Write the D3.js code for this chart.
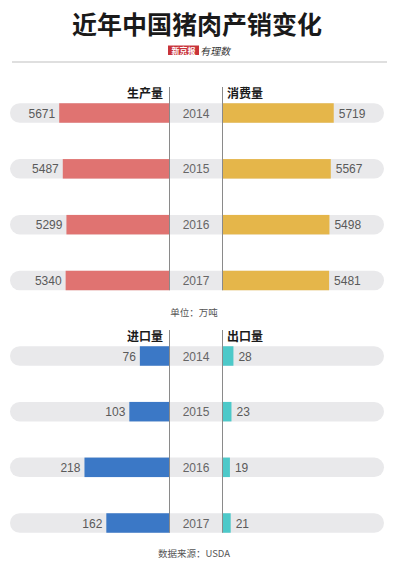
<!DOCTYPE html>
<html>
<head>
<meta charset="utf-8">
<script src="https://cdn.jsdelivr.net/npm/d3@7"></script>
<style>
  body { margin: 0; background: #fff; }
  svg { display: block; font-family: "Liberation Sans", "Noto Sans CJK SC", sans-serif; }
  .cjk { font-family: "Noto Sans CJK SC", sans-serif; }
</style>
</head>
<body>
<div id="chart"></div>
<script>
const years = ["2014", "2015", "2016", "2017"]
const production = [5671, 5487, 5299, 5340]
const consumption = [5719, 5567, 5498, 5481]
const imports = [76, 103, 218, 162]
const exports = [28, 23, 19, 21]

const width = 394, height = 571
const leftAxis = 169.5, rightAxis = 222.5, mid = 196
const pillLeft = 10, pillRight = 384, rowH = 19.5

const svg = d3.select("#chart").append("svg")
  .attr("width", width)
  .attr("height", height)

// header
svg.append("text")
  .attr("class", "cjk")
  .attr("x", width / 2)
  .attr("y", 34)
  .attr("text-anchor", "middle")
  .style("font-size", "25px")
  .style("font-weight", 700)
  .style("fill", "#1a1a1a")
  .text("近年中国猪肉产销变化")

svg.append("rect")
  .attr("x", 168).attr("y", 45.5)
  .attr("width", 31).attr("height", 9.5)
  .style("fill", "#c8343a")
svg.append("text")
  .attr("class", "cjk")
  .attr("x", 183.5).attr("y", 53.5)
  .attr("text-anchor", "middle")
  .style("font-size", "8px")
  .style("font-weight", 700)
  .style("fill", "#fff")
  .text("新京报")
svg.append("text")
  .attr("class", "cjk")
  .attr("x", 201).attr("y", 55)
  .attr("transform", "skewX(-12)")
  .attr("dx", 11)
  .style("font-size", "10px")
  .style("fill", "#333")
  .text("有理数")

svg.append("line")
  .attr("x1", 12).attr("x2", 387)
  .attr("y1", 62).attr("y2", 62)
  .style("stroke", "#d4d4d4")
  .style("stroke-width", 1.5)

function drawPanel(cfg) {
  const y = d3.scalePoint().domain(years).range(cfg.rows)
  const x = d3.scaleLinear().domain([0, cfg.max]).range([0, cfg.span])
  const g = svg.append("g")

  g.selectAll(".pill")
    .data(years)
    .join("rect")
    .attr("x", pillLeft)
    .attr("y", d => y(d) - rowH / 2)
    .attr("width", pillRight - pillLeft)
    .attr("height", rowH)
    .attr("rx", rowH / 2)
    .style("fill", "#e9e9eb")

  g.selectAll(".lbar")
    .data(cfg.left)
    .join("rect")
    .attr("x", d => leftAxis - x(d))
    .attr("y", (d, i) => y(years[i]) - rowH / 2)
    .attr("width", d => x(d))
    .attr("height", rowH)
    .style("fill", cfg.leftColor)

  g.selectAll(".rbar")
    .data(cfg.right)
    .join("rect")
    .attr("x", rightAxis)
    .attr("y", (d, i) => y(years[i]) - rowH / 2)
    .attr("width", d => x(d))
    .attr("height", rowH)
    .style("fill", cfg.rightColor)

  g.selectAll(".lval")
    .data(cfg.left)
    .join("text")
    .attr("x", d => leftAxis - x(d) - 4)
    .attr("y", (d, i) => y(years[i]) + 4.5)
    .attr("text-anchor", "end")
    .style("font-size", "12px")
    .style("fill", "#5a5a5a")
    .text(d => d)

  g.selectAll(".rval")
    .data(cfg.right)
    .join("text")
    .attr("x", d => rightAxis + x(d) + 5)
    .attr("y", (d, i) => y(years[i]) + 4.5)
    .style("font-size", "12px")
    .style("fill", "#5a5a5a")
    .text(d => d)

  g.selectAll(".year")
    .data(years)
    .join("text")
    .attr("x", mid)
    .attr("y", d => y(d) + 4.5)
    .attr("text-anchor", "middle")
    .style("font-size", "12px")
    .style("fill", "#666")
    .text(d => d)

  g.selectAll(".axis")
    .data([leftAxis, rightAxis])
    .join("line")
    .attr("x1", d => d).attr("x2", d => d)
    .attr("y1", cfg.lineTop)
    .attr("y2", cfg.rows[1] + rowH / 2)
    .style("stroke", "#8a8a8a")
    .style("stroke-width", 1)

  g.append("text")
    .attr("class", "cjk")
    .attr("x", 163).attr("y", cfg.titleY)
    .attr("text-anchor", "end")
    .style("font-size", "12px")
    .style("font-weight", 700)
    .style("fill", "#1a1a1a")
    .text(cfg.leftTitle)

  g.append("text")
    .attr("class", "cjk")
    .attr("x", 227).attr("y", cfg.titleY)
    .style("font-size", "12px")
    .style("font-weight", 700)
    .style("fill", "#1a1a1a")
    .text(cfg.rightTitle)
}

drawPanel({
  rows: [113, 280.5],
  max: 6000, span: 116.7,
  left: production, right: consumption,
  leftColor: "#e07371", rightColor: "#e5b64a",
  leftTitle: "生产量", rightTitle: "消费量",
  titleY: 98, lineTop: 87
})

drawPanel({
  rows: [356, 523],
  max: 400, span: 156,
  left: imports, right: exports,
  leftColor: "#3b78c6", rightColor: "#4dc9c9",
  leftTitle: "进口量", rightTitle: "出口量",
  titleY: 341, lineTop: 330
})

svg.append("text")
  .attr("class", "cjk")
  .attr("x", 194).attr("y", 316)
  .attr("text-anchor", "middle")
  .style("font-size", "9.5px")
  .style("fill", "#555")
  .text("单位：万吨")

svg.append("text")
  .attr("class", "cjk")
  .attr("x", 194).attr("y", 557)
  .attr("text-anchor", "middle")
  .style("font-size", "9.5px")
  .style("fill", "#555")
  .text("数据来源：USDA")
</script>
</body>
</html>
